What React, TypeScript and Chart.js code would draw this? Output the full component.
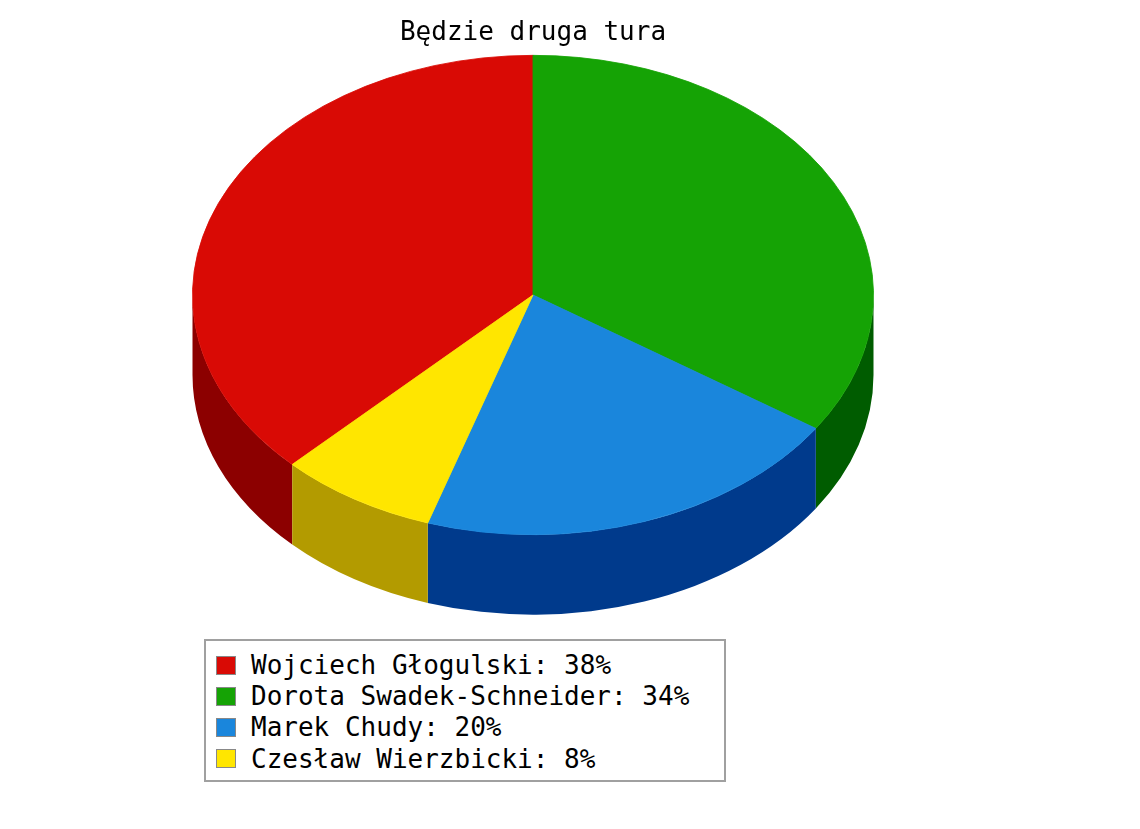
import React, { useEffect, useRef } from 'react';
import { Chart, registerables } from 'chart.js';

Chart.register(...registerables);

const names = ['Wojciech Głogulski', 'Dorota Swadek-Schneider', 'Marek Chudy', 'Czesław Wierzbicki'];
// shown percentages, as printed in the legend
const percents = [38, 34, 20, 8];
// slice sizes as measured on the pie (the printed ones are rounded)
const shares = [37.5, 34.4, 20.6, 7.5];
const topColors = ['#d90a05', '#15a305', '#1a86dc', '#ffe600'];
const sideColors = ['#8c0000', '#005c00', '#003a8c', '#b39b00'];

const FONT = '"DejaVu Sans Mono", monospace';
const CENTER_Y = 295;
const SQUASH = 240 / 341;
const DEPTH = 80;

// Tilts the pie: squashes the arcs into an ellipse and draws the rim below them
const tiltPlugin = {
  id: 'tilt',
  beforeDatasetsDraw(chart: Chart) {
    const ctx = chart.ctx;
    const arcs = chart.getDatasetMeta(0).data as any[];
    if (!arcs.length) return;
    const cx = arcs[0].x;
    const cy = arcs[0].y;
    const r = arcs[0].outerRadius;

    arcs.forEach((arc, i) => {
      // only the part of a slice facing the viewer (0..PI) has a visible rim;
      // chart.js angles can be negative or run past 2PI, so try each wrap
      [-1, 0, 1].forEach((turn) => {
        const from = Math.max(arc.startAngle + turn * Math.PI * 2, 0);
        const to = Math.min(arc.endAngle + turn * Math.PI * 2, Math.PI);
        if (to <= from) return;
        ctx.save();
        ctx.fillStyle = sideColors[i];
        ctx.beginPath();
        ctx.ellipse(cx, CENTER_Y, r, r * SQUASH, 0, from, to);
        ctx.ellipse(cx, CENTER_Y + DEPTH, r, r * SQUASH, 0, to, from, true);
        ctx.closePath();
        ctx.fill();
        ctx.restore();
      });
    });

    ctx.save();
    ctx.translate(0, CENTER_Y);
    ctx.scale(1, SQUASH);
    ctx.translate(0, -cy);
  },
  afterDatasetsDraw(chart: Chart) {
    chart.ctx.restore();
  },
};

export default function App() {
  const chartRef = useRef<HTMLCanvasElement | null>(null);

  useEffect(() => {
    if (!chartRef.current) return;
    document.body.style.margin = '0';
    document.body.style.background = '#fff';

    const chart = new Chart(chartRef.current, {
      type: 'pie',
      data: {
        labels: names,
        datasets: [
          {
            data: shares,
            backgroundColor: topColors,
            borderColor: topColors,
            borderWidth: 1,
          },
        ],
      },
      options: {
        responsive: false,
        animation: false,
        rotation: (-shares[0] / 100) * 360,
        layout: { padding: { left: 192, right: 188, top: 10, bottom: 60 } },
        plugins: {
          legend: { display: false },
          tooltip: { enabled: false },
          title: {
            display: true,
            text: 'Będzie druga tura',
            color: '#000',
            font: { family: FONT, size: 26, weight: 'normal' },
            padding: { top: 8, bottom: 7 },
          },
        },
      },
      plugins: [tiltPlugin],
    });

    return () => chart.destroy();
  }, []);

  return (
    <div style={{ position: 'relative', width: 1140, height: 829, fontFamily: FONT }}>
      <canvas ref={chartRef} width={1062} height={829} style={{ display: 'block' }} />
      <div
        style={{
          position: 'absolute',
          left: 204,
          top: 639,
          width: 518,
          height: 139,
          border: '2px solid #a0a0a0',
          background: '#fff',
        }}
      >
        {names.map((name, i) => (
          <div
            key={name}
            style={{ position: 'absolute', left: 10, top: 9 + i * 31.2, height: 30, display: 'flex', alignItems: 'center' }}
          >
            <span
              style={{
                display: 'block',
                width: 18,
                height: 17,
                background: topColors[i],
                border: '1px solid #888',
                marginRight: 15,
              }}
            />
            <span style={{ fontSize: 26, lineHeight: '30px', color: '#000', whiteSpace: 'pre' }}>
              {name}: {percents[i]}%
            </span>
          </div>
        ))}
      </div>
    </div>
  );
}
